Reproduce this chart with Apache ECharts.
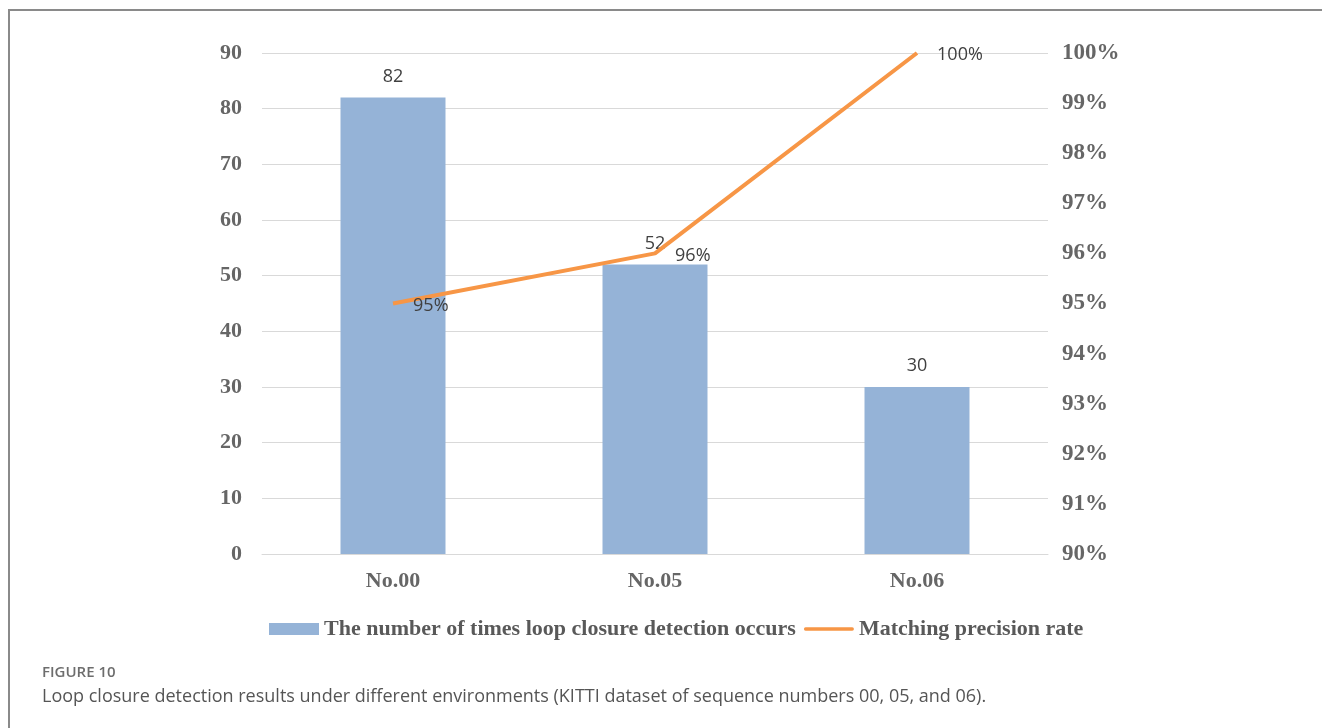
<!DOCTYPE html>
<html>
<head>
<meta charset="utf-8">
<script src="https://cdn.jsdelivr.net/npm/echarts@6/dist/echarts.min.js"></script>
<style>
  html, body { margin: 0; padding: 0; background: #fff; }
  #chart { width: 1322px; height: 728px; }
</style>
</head>
<body>
<div id="chart"></div>
<script>
// Loop closure detection counts and matching precision per KITTI sequence
const categories = ['No.00', 'No.05', 'No.06'];
const loopCounts = [82, 52, 30];
const precisionRates = [95, 96, 100];
const countTicks = { min: 0, max: 90, interval: 10 };
const rateTicks = { min: 90, max: 100, interval: 1 };

const axisFont = {
  fontFamily: 'Liberation Serif',
  fontWeight: 'bold',
  fontSize: 22,
  color: '#666666'
};
const valueFont = {
  fontFamily: 'Open Sans',
  fontSize: 18,
  color: '#404040'
};

const chart = echarts.init(document.getElementById('chart'));
chart.setOption({
  animation: false,
  backgroundColor: '#ffffff',
  grid: { left: 262, right: 274, top: 53, bottom: 174 },
  legend: {
    left: 264,
    top: 613,
    itemGap: 8,
    itemWidth: 50,
    itemHeight: 12,
    symbolKeepAspect: true,
    textStyle: Object.assign({}, axisFont, { fontSize: 22, color: '#595959' }),
    data: [
      { name: 'The number of times loop closure detection occurs', icon: 'rect' },
      {
        name: 'Matching precision rate',
        icon: 'path://M2,0 L58,0 A2,2 0 0 1 58,4 L2,4 A2,2 0 0 1 2,0 Z',
        itemStyle: { color: '#F79646' }
      }
    ]
  },
  xAxis: {
    type: 'category',
    data: categories,
    axisLine: { lineStyle: { color: '#d9d9d9', width: 1 } },
    axisTick: { show: false },
    axisLabel: Object.assign({}, axisFont, { margin: 16 })
  },
  yAxis: [
    {
      type: 'value',
      min: countTicks.min,
      max: countTicks.max,
      interval: countTicks.interval,
      axisLine: { show: false },
      axisTick: { show: false },
      splitLine: { lineStyle: { color: '#d9d9d9', width: 1 } },
      axisLabel: Object.assign({}, axisFont, { margin: 20 })
    },
    {
      type: 'value',
      min: rateTicks.min,
      max: rateTicks.max,
      interval: rateTicks.interval,
      position: 'right',
      axisLine: { show: false },
      axisTick: { show: false },
      splitLine: { show: false },
      axisLabel: Object.assign({}, axisFont, {
        fontSize: 23,
        margin: 14,
        formatter: v => v + '%'
      })
    }
  ],
  series: [
    {
      name: 'The number of times loop closure detection occurs',
      type: 'bar',
      data: loopCounts,
      barWidth: 105,
      itemStyle: { color: '#95B3D7' },
      label: Object.assign({ show: true, position: 'top', distance: 12 }, valueFont)
    },
    {
      name: 'Matching precision rate',
      type: 'line',
      yAxisIndex: 1,
      data: precisionRates,
      symbol: 'circle',
      symbolSize: 0.1,
      showSymbol: true,
      lineStyle: { color: '#F79646', width: 4 },
      itemStyle: { color: '#F79646' },
      label: Object.assign({
        show: true,
        position: 'right',
        distance: 20,
        offset: [0, 2],
        formatter: p => p.value + '%'
      }, valueFont)
    }
  ],
  title: [
    {
      text: 'FIGURE 10',
      left: 37,
      top: 660,
      textStyle: { fontFamily: 'Open Sans', fontSize: 15, fontWeight: 600, color: '#6d6d6d' }
    },
    {
      text: 'Loop closure detection results under different environments (KITTI dataset of sequence numbers 00, 05, and 06).',
      left: 37,
      top: 683,
      textStyle: { fontFamily: 'Open Sans', fontSize: 18, fontWeight: 'normal', color: '#555555' }
    }
  ],
  graphic: [
    {
      type: 'polyline',
      shape: { points: [[9, 740], [9, 10], [1330, 10]] },
      style: { stroke: '#8a8a8a', lineWidth: 2, fill: null },
      silent: true
    }
  ]
});
</script>
</body>
</html>
